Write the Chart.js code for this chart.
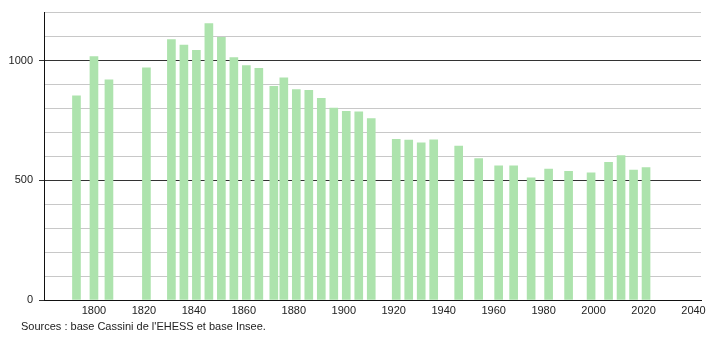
<!DOCTYPE html>
<html>
<head>
<meta charset="utf-8">
<script src="https://cdn.jsdelivr.net/npm/chart.js@4.4.1/dist/chart.umd.min.js"></script>
<style>
  html, body { margin: 0; padding: 0; background: #fff; }
  #wrap { position: relative; width: 710px; height: 340px; }
</style>
</head>
<body>
<div id="wrap"><canvas id="popChart" width="710" height="340"></canvas></div>
<script>
// census years and population
const years = [1793, 1800, 1806, 1821, 1831, 1836, 1841, 1846, 1851, 1856, 1861, 1866,
  1872, 1876, 1881, 1886, 1891, 1896, 1901, 1906, 1911, 1921, 1926, 1931, 1936,
  1946, 1954, 1962, 1968, 1975, 1982, 1990, 1999, 2006, 2011, 2016, 2021];
const population = [853, 1016, 919, 969, 1087, 1064, 1042, 1154, 1097, 1012, 979, 967,
  892, 928, 879, 875, 842, 801, 788, 786, 758, 671, 668, 656, 669,
  643, 590, 560, 560, 510, 547, 537, 531, 575, 603, 542, 553];
const xTicks = [1800, 1820, 1840, 1860, 1880, 1900, 1920, 1940, 1960, 1980, 2000, 2020, 2040];
const yLabels = [0, 500, 1000];

const sourceText = "Sources : base Cassini de l'EHESS et base Insee.";

const sourcePlugin = {
  id: "sourceNote",
  afterDraw(chart) {
    const ctx = chart.ctx;
    ctx.save();
    ctx.font = "11px 'Liberation Sans', Arial, sans-serif";
    ctx.fillStyle = "#222";
    ctx.textBaseline = "middle";
    ctx.fillText(sourceText, 21, 327);
    ctx.restore();
  },
};

const tickFont = { family: "'Liberation Sans', Arial, sans-serif", size: 11 };

new Chart(document.getElementById("popChart"), {
  type: "bar",
  data: {
    datasets: [
      {
        data: years.map((y, i) => ({ x: y, y: population[i] })),
        backgroundColor: "#ade3ad",
        borderWidth: 0,
        barThickness: 8,
      },
    ],
  },
  options: {
    responsive: false,
    animation: false,
    layout: { padding: { top: 10, right: 9, left: 0, bottom: 0 } },
    plugins: { legend: { display: false }, tooltip: { enabled: false } },
    scales: {
      x: {
        type: "linear",
        offset: false,
        min: 1780,
        max: 2043,
        afterBuildTicks: (scale) => {
          scale.ticks = xTicks.map((v) => ({ value: v }));
        },
        afterFit: (scale) => {
          scale.height = 40;
        },
        grid: { display: false, drawTicks: false },
        border: { display: true, color: "#111", width: 1 },
        ticks: {
          color: "#222",
          font: tickFont,
          padding: 4,
          maxRotation: 0,
          autoSkip: false,
          callback: (v) => String(v),
        },
      },
      y: {
        min: 0,
        max: 1200,
        afterFit: (scale) => {
          scale.width = 44;
        },
        grid: {
          color: (c) => (c.tick && yLabels.includes(c.tick.value) && c.tick.value > 0 ? "#333" : "#c8c8c8"),
          tickColor: (c) => (c.tick && yLabels.includes(c.tick.value) ? "#333" : "rgba(0,0,0,0)"),
          tickLength: 5,
          lineWidth: 1,
        },
        border: { display: true, color: "#111", width: 1 },
        ticks: {
          stepSize: 100,
          color: "#222",
          font: tickFont,
          padding: 6,
          autoSkip: false,
          callback: (v) => (yLabels.includes(v) ? String(v) : ""),
        },
      },
    },
  },
  plugins: [sourcePlugin],
});
</script>
</body>
</html>
